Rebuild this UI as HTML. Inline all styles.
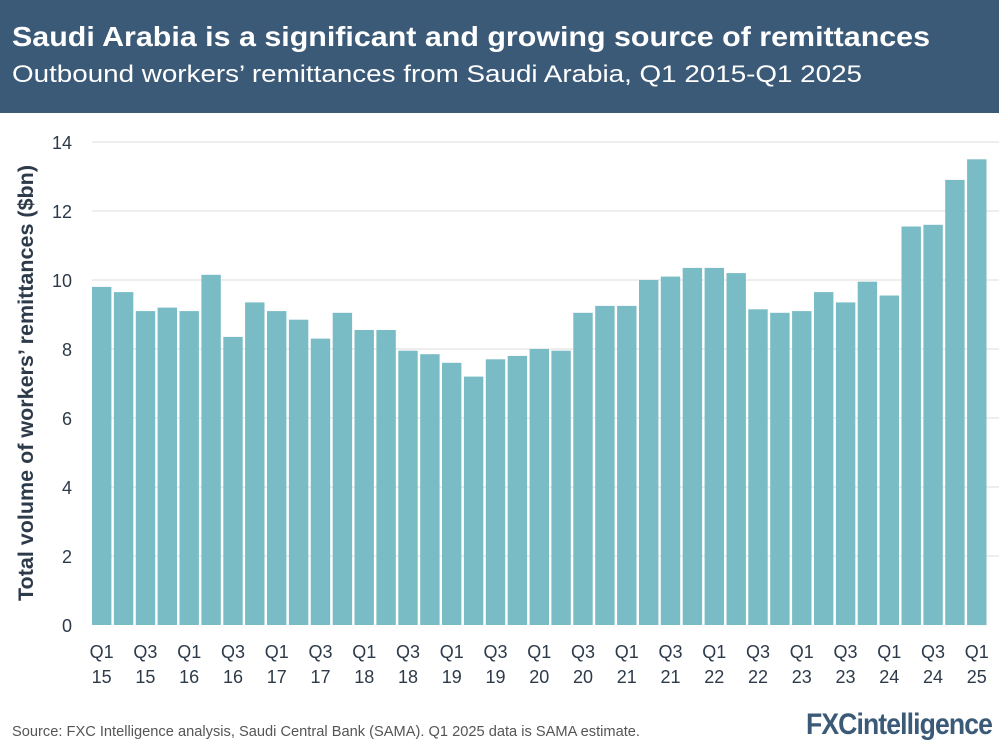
<!DOCTYPE html>
<html><head><meta charset="utf-8"><style>body{margin:0;background:#fff}svg{display:block}</style></head>
<body>
<svg width="999" height="749" viewBox="0 0 999 749" xmlns="http://www.w3.org/2000/svg" font-family="Liberation Sans, sans-serif">
<rect x="0" y="0" width="999" height="113" fill="#3b5a78"/>
<text x="12" y="46" font-size="28" font-weight="bold" fill="#fff" textLength="918" lengthAdjust="spacingAndGlyphs">Saudi Arabia is a significant and growing source of remittances</text>
<text x="12" y="82" font-size="24" fill="#fff" textLength="850" lengthAdjust="spacingAndGlyphs">Outbound workers’ remittances from Saudi Arabia, Q1 2015-Q1 2025</text>
<g stroke="#e3e3e3" stroke-width="1.2">
<line x1="92" x2="999" y1="142" y2="142"/><line x1="92" x2="999" y1="211" y2="211"/><line x1="92" x2="999" y1="280" y2="280"/><line x1="92" x2="999" y1="349" y2="349"/><line x1="92" x2="999" y1="418" y2="418"/><line x1="92" x2="999" y1="487" y2="487"/><line x1="92" x2="999" y1="556" y2="556"/>
</g>
<g font-size="18" fill="#2d3a4a" text-anchor="end">
<text x="72" y="149">14</text><text x="72" y="218">12</text><text x="72" y="287">10</text><text x="72" y="356">8</text><text x="72" y="425">6</text><text x="72" y="494">4</text><text x="72" y="563">2</text><text x="72" y="632">0</text>
</g>
<text transform="translate(33,383) rotate(-90)" font-size="21" font-weight="bold" fill="#2d3a4a" text-anchor="middle" textLength="436" lengthAdjust="spacingAndGlyphs">Total volume of workers’ remittances ($bn)</text>
<g id="bars" fill="#79bcc5"></g>
<g id="labels" font-size="18" fill="#2d3a4a" text-anchor="middle"></g>
<text x="12" y="736" font-size="15" fill="#555" textLength="628" lengthAdjust="spacingAndGlyphs">Source: FXC Intelligence analysis, Saudi Central Bank (SAMA). Q1 2025 data is SAMA estimate.</text>
<text x="806" y="734" font-size="30" font-weight="bold" fill="#3b5a78" textLength="186" lengthAdjust="spacingAndGlyphs" letter-spacing="-1">FXCintelligence</text>
<script>
var v=[9.8,9.65,9.1,9.2,9.1,10.15,8.35,9.35,9.1,8.85,8.3,9.05,8.55,8.55,7.95,7.85,7.6,7.2,7.7,7.8,8.0,7.95,9.05,9.25,9.25,10.0,10.1,10.35,10.35,10.2,9.15,9.05,9.1,9.65,9.35,9.95,9.55,11.55,11.6,12.9,13.5];
var ns="http://www.w3.org/2000/svg",b=document.getElementById("bars"),l=document.getElementById("labels");
var p=897/41;
for(var i=0;i<41;i++){var x=92+i*p,h=v[i]*34.5;var r=document.createElementNS(ns,"rect");
r.setAttribute("x",x.toFixed(1));r.setAttribute("y",(625-h).toFixed(1));r.setAttribute("width",(p-2.5).toFixed(1));r.setAttribute("height",h.toFixed(1));b.appendChild(r);
if(i%2==0){var q=(i%4==0)?"Q1":"Q3",yr=15+Math.floor(i/4);var cx=x+(p-2.5)/2;
var t=document.createElementNS(ns,"text");t.setAttribute("x",cx);t.setAttribute("y",658);t.textContent=q;l.appendChild(t);
var t2=document.createElementNS(ns,"text");t2.setAttribute("x",cx);t2.setAttribute("y",683);t2.textContent=yr;l.appendChild(t2);}}
</script>
</svg>
</body></html>
